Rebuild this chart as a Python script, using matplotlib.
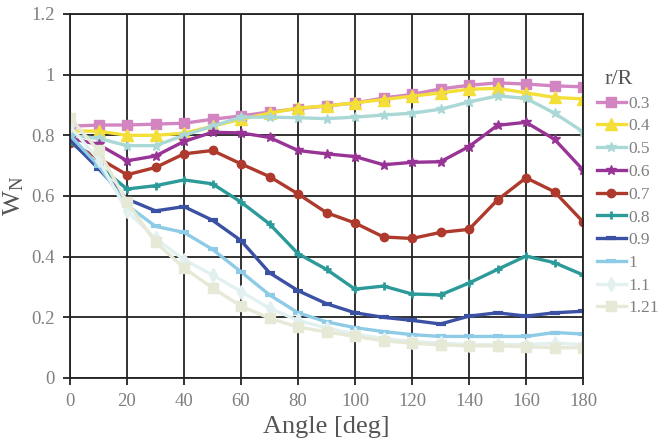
import numpy as np
import matplotlib
matplotlib.use("Agg")
import matplotlib.pyplot as plt

plt.rcParams['font.family'] = ['Liberation Serif', 'DejaVu Serif']
plt.rcParams['mathtext.fontset'] = 'custom'
plt.rcParams['mathtext.rm'] = 'Liberation Serif'
plt.rcParams['mathtext.it'] = 'Liberation Serif:italic'

angle = np.arange(0, 181, 10)

# normalised velocity W_N per radial station r/R
w_03 = [0.83, 0.834, 0.834, 0.837, 0.84, 0.853, 0.864, 0.877, 0.888, 0.897,
        0.907, 0.923, 0.935, 0.953, 0.965, 0.973, 0.969, 0.963, 0.96]
w_04 = [0.814, 0.814, 0.80, 0.80, 0.807, 0.83, 0.853, 0.873, 0.89, 0.897,
        0.907, 0.918, 0.929, 0.94, 0.952, 0.955, 0.94, 0.925, 0.92]
w_05 = [0.80, 0.79, 0.766, 0.766, 0.80, 0.83, 0.86, 0.86, 0.858, 0.855,
        0.86, 0.867, 0.873, 0.886, 0.91, 0.93, 0.922, 0.873, 0.812]
w_06 = [0.79, 0.77, 0.716, 0.732, 0.78, 0.81, 0.808, 0.793, 0.75, 0.739,
        0.73, 0.703, 0.711, 0.713, 0.763, 0.833, 0.843, 0.787, 0.686]
w_07 = [0.775, 0.725, 0.67, 0.694, 0.739, 0.75, 0.706, 0.664, 0.607, 0.545,
        0.511, 0.465, 0.46, 0.48, 0.49, 0.587, 0.66, 0.614, 0.515]
w_08 = [0.78, 0.70, 0.623, 0.634, 0.653, 0.64, 0.58, 0.508, 0.41, 0.358,
        0.293, 0.303, 0.277, 0.274, 0.313, 0.358, 0.402, 0.38, 0.34]
w_09 = [0.785, 0.69, 0.59, 0.551, 0.565, 0.52, 0.453, 0.347, 0.288, 0.245,
        0.215, 0.20, 0.19, 0.178, 0.204, 0.215, 0.204, 0.215, 0.22]
w_10 = [0.80, 0.70, 0.57, 0.50, 0.48, 0.424, 0.35, 0.274, 0.215, 0.185,
        0.166, 0.153, 0.143, 0.137, 0.137, 0.137, 0.137, 0.15, 0.145]
w_11 = [0.83, 0.72, 0.55, 0.46, 0.39, 0.34, 0.285, 0.23, 0.19, 0.165,
        0.145, 0.13, 0.12, 0.115, 0.11, 0.11, 0.11, 0.115, 0.11]
w_121 = [0.857, 0.75, 0.58, 0.448, 0.363, 0.297, 0.237, 0.197, 0.168, 0.152,
         0.137, 0.123, 0.115, 0.109, 0.106, 0.106, 0.103, 0.10, 0.10]

labels = ['0.3', '0.4', '0.5', '0.6', '0.7', '0.8', '0.9', '1', '1.1', '1.21']
series = [w_03, w_04, w_05, w_06, w_07, w_08, w_09, w_10, w_11, w_121]

styles = [
    dict(color='#d385c2', marker='s', ms=7),
    dict(color='#f3df38', marker='^', ms=9),
    dict(color='#a9d8d6', marker='*', ms=7),
    dict(color='#983496', marker='*', ms=7),
    dict(color='#ad3a2c', marker='o', ms=6),
    dict(color='#2b9a98', marker='+', ms=6, mew=2),
    dict(color='#3b51a3', marker='_', ms=7, mew=3),
    dict(color='#8ecbe6', marker='_', ms=7, mew=3),
    dict(color='#e2f0f0', marker='d', ms=7),
    dict(color='#e5e9d6', marker='s', ms=7),
]

fig = plt.figure(figsize=(6.63, 4.45), dpi=100)
ax = fig.add_axes([70 / 663, 1 - 378 / 445, 513 / 663, 364 / 445])

for lab, vals, st in zip(labels, series, styles):
    ax.plot(angle, vals, label=lab, lw=2.4, color=st['color'], marker=st['marker'],
            ms=st['ms'], mew=st.get('mew', 1), mec=st['color'], mfc=st['color'])

ax.set_xlim(0, 180)
ax.set_ylim(0, 1.2)
ax.set_xticks(np.arange(0, 181, 20))
ax.set_yticks([0, 0.2, 0.4, 0.6, 0.8, 1.0, 1.2])
ax.set_yticklabels(['0', '0.2', '0.4', '0.6', '0.8', '1', '1.2'])
ax.grid(True, color='#222222', lw=1.3)
ax.set_axisbelow(True)
for sp in ax.spines.values():
    sp.set_color('#222222')
    sp.set_linewidth(1.3)
ax.tick_params(direction='out', length=5, width=1.3, color='#222222',
               labelsize=13.5, labelcolor='#808080', pad=6)

ax.set_xlabel('Angle [deg]', fontsize=19, color='#555555', labelpad=4)
ax.set_ylabel(r'W$_{\mathrm{N}}$', fontsize=19, color='#555555')
ax.yaxis.set_label_coords(-0.085, 0.5)

leg = fig.legend(loc='upper left', bbox_to_anchor=(597 / 663, 1 - 70 / 445),
                 title='r/R', frameon=False, fontsize=12.5, title_fontsize=16,
                 handlelength=1.65, handletextpad=0.15, labelspacing=0.38,
                 borderaxespad=0, borderpad=0)
leg._legend_box.align = 'left'
leg.get_title().set_position((8, 0))
for t in leg.get_texts():
    t.set_color('#808080')
leg.get_title().set_color('#555555')

fig.savefig('out.png', dpi=100)
